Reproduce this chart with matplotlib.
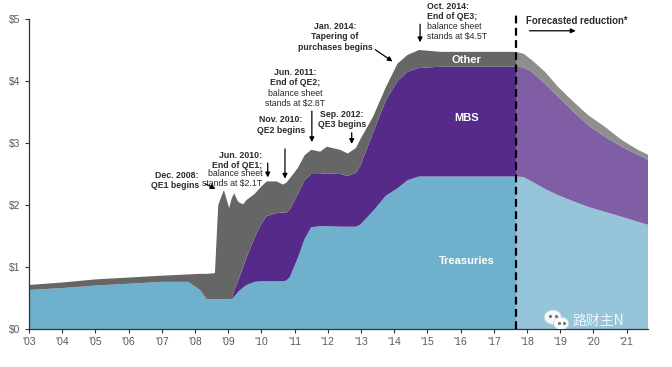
import matplotlib
matplotlib.use("Agg")
import matplotlib.pyplot as plt
from matplotlib.patches import Ellipse
import numpy as np

plt.rcParams['font.family'] = ['Liberation Sans', 'DejaVu Sans']

# historical balance sheet ($ trillion), layer values
hist_years = [2003.0, 2004.0, 2005.0, 2006.0, 2007.0, 2007.8, 2008.15, 2008.35, 2008.6, 2008.7,
              2008.87, 2009.03, 2009.1, 2009.18, 2009.3, 2009.45, 2009.55, 2009.8, 2010.0, 2010.16,
              2010.46, 2010.65, 2010.75, 2010.86, 2011.1, 2011.3, 2011.5, 2011.77, 2011.97, 2012.37,
              2012.6, 2012.85, 2012.97, 2013.36, 2013.75, 2014.1, 2014.4, 2014.75, 2015.4, 2016.5, 2017.67]
hist_treasuries = [0.63, 0.66, 0.70, 0.73, 0.76, 0.76, 0.63, 0.48, 0.48, 0.48,
                   0.48, 0.48, 0.48, 0.52, 0.60, 0.67, 0.71, 0.76, 0.77, 0.77,
                   0.77, 0.77, 0.78, 0.84, 1.15, 1.45, 1.64, 1.66, 1.66, 1.65,
                   1.65, 1.65, 1.68, 1.90, 2.15, 2.27, 2.40, 2.46, 2.46, 2.46, 2.46]
hist_mbs = [0.0, 0.0, 0.0, 0.0, 0.0, 0.0, 0.0, 0.0, 0.0, 0.0,
            0.0, 0.0, 0.0, 0.10, 0.18, 0.33, 0.44, 0.72, 0.93, 1.05,
            1.10, 1.11, 1.10, 1.09, 1.03, 0.95, 0.86, 0.84, 0.85, 0.85,
            0.82, 0.87, 0.94, 1.26, 1.54, 1.73, 1.75, 1.75, 1.77, 1.77, 1.77]
hist_other = [0.08, 0.09, 0.10, 0.10, 0.10, 0.12, 0.26, 0.41, 0.42, 1.52,
              1.76, 1.47, 1.62, 1.57, 1.27, 1.01, 0.93, 0.70, 0.60, 0.56,
              0.51, 0.45, 0.48, 0.50, 0.42, 0.40, 0.39, 0.36, 0.43, 0.39,
              0.36, 0.40, 0.43, 0.26, 0.21, 0.28, 0.27, 0.29, 0.24, 0.24, 0.24]

# forecasted reduction
fc_years = [2017.67, 2017.9, 2018.14, 2018.54, 2018.93, 2019.35, 2019.84, 2020.35, 2020.85, 2021.34, 2021.65]
fc_treasuries = [2.46, 2.45, 2.38, 2.26, 2.16, 2.07, 1.97, 1.89, 1.81, 1.73, 1.68]
fc_mbs = [1.77, 1.77, 1.77, 1.70, 1.59, 1.46, 1.32, 1.21, 1.13, 1.08, 1.05]
fc_other = [0.24, 0.22, 0.19, 0.19, 0.16, 0.16, 0.16, 0.16, 0.11, 0.08, 0.08]

tick_years = list(range(2003, 2022))
tick_labels = ["'%02d" % (y % 100) for y in tick_years]
y_ticks = [0, 1, 2, 3, 4, 5]
y_labels = ["$%d" % v for v in y_ticks]

hist_colors = ["#6fb0cd", "#552a88", "#666666"]
fc_colors = ["#96c4d8", "#7f5ea6", "#8e8e8e"]

fig = plt.figure(figsize=(6.72, 3.67), dpi=100)
ax = fig.add_axes([29 / 672, 38 / 367, 619 / 672, 310 / 367])

ax.stackplot(hist_years, hist_treasuries, hist_mbs, hist_other, colors=hist_colors, linewidth=0)
ax.stackplot(fc_years, fc_treasuries, fc_mbs, fc_other, colors=fc_colors, linewidth=0)

split = fc_years[0]
ax.plot([split, split], [0, 5.07], color="black", lw=1.6, ls=(0, (3.5, 2)), clip_on=False, zorder=5)

ax.set_xlim(2003, 2021.645)
ax.set_ylim(0, 5)
ax.set_xticks(tick_years)
ax.set_xticklabels(tick_labels)
ax.set_yticks(y_ticks)
ax.set_yticklabels(y_labels)
ax.tick_params(axis="both", labelsize=7.5, colors="#333333", labelcolor="#5a5a5a", length=3, width=0.8, pad=3)
for s in ["top", "right"]:
    ax.spines[s].set_visible(False)
for s in ["left", "bottom"]:
    ax.spines[s].set_color("#333333")
    ax.spines[s].set_linewidth(0.9)

tc = "#2b2b2b"
fs = 6.3
ls = 1.15


def arrow(x0, y0, x1, y1):
    ax.annotate("", xy=(x1, y1), xytext=(x0, y0),
                arrowprops=dict(arrowstyle="-|>", color="black", lw=0.9, mutation_scale=7),
                annotation_clip=False)


# Dec. 2008
ax.text(2008.12, 2.40, "Dec. 2008:\nQE1 begins", ha="right", va="center", fontsize=fs,
        color=tc, fontweight="bold", linespacing=ls)
arrow(2008.24, 2.36, 2008.69, 2.24)

# Jun. 2010
ax.text(2010.02, 2.72, "Jun. 2010:\nEnd of QE1;", ha="right", va="center", fontsize=fs,
        color=tc, fontweight="bold", linespacing=ls)
ax.text(2010.02, 2.42, "balance sheet\nstands at $2.1T", ha="right", va="center", fontsize=fs,
        color=tc, linespacing=ls)
arrow(2010.19, 2.72, 2010.19, 2.40)

# Nov. 2010
ax.text(2010.59, 3.29, "Nov. 2010:\nQE2 begins", ha="center", va="center", fontsize=fs,
        color=tc, fontweight="bold", linespacing=ls)
arrow(2010.71, 2.95, 2010.71, 2.38)

# Jun. 2011
ax.text(2011.01, 4.05, "Jun. 2011:\nEnd of QE2;", ha="center", va="center", fontsize=fs,
        color=tc, fontweight="bold", linespacing=ls)
ax.text(2011.01, 3.72, "balance sheet\nstands at $2.8T", ha="center", va="center", fontsize=fs,
        color=tc, linespacing=ls)
arrow(2011.52, 3.56, 2011.52, 2.97)

# Sep. 2012
ax.text(2012.43, 3.38, "Sep. 2012:\nQE3 begins", ha="center", va="center", fontsize=fs,
        color=tc, fontweight="bold", linespacing=ls)
arrow(2012.72, 3.21, 2012.72, 2.94)

# Jan. 2014
ax.text(2012.22, 4.71, "Jan. 2014:\nTapering of\npurchases begins", ha="center", va="center",
        fontsize=fs, color=tc, fontweight="bold", linespacing=ls)
arrow(2013.36, 4.53, 2014.02, 4.29)

# Oct. 2014
ax.text(2014.98, 5.12, "Oct. 2014:\nEnd of QE3;", ha="left", va="center", fontsize=fs,
        color=tc, fontweight="bold", linespacing=ls)
ax.text(2014.98, 4.80, "balance sheet\nstands at $4.5T", ha="left", va="center", fontsize=fs,
        color=tc, linespacing=ls)
arrow(2014.78, 4.96, 2014.78, 4.58)

# forecast
ax.text(2017.96, 4.97, "Forecasted reduction*", ha="left", va="center", fontsize=6.9,
        color=tc, fontweight="bold")
arrow(2017.99, 4.81, 2019.55, 4.81)

# layer labels
ax.text(2016.18, 4.34, "Other", ha="center", va="center", fontsize=8, color="white", fontweight="bold")
ax.text(2016.18, 3.40, "MBS", ha="center", va="center", fontsize=8, color="white", fontweight="bold")
ax.text(2016.18, 1.09, "Treasuries", ha="center", va="center", fontsize=8, color="white", fontweight="bold")

# watermark
ax.add_patch(Ellipse((2018.78, 0.19), 0.52, 0.23, facecolor="white", edgecolor="#b8d6e4", lw=0.6, alpha=0.9, zorder=6))
ax.add_patch(Ellipse((2019.03, 0.09), 0.46, 0.20, facecolor="white", edgecolor="#b8d6e4", lw=0.6, alpha=0.95, zorder=7))
ax.plot([2018.70, 2018.86, 2018.96, 2019.10], [0.21, 0.21, 0.10, 0.10], ls="none", marker="o",
        ms=1.3, color="#777777", zorder=8)
ax.text(2020.14, 0.13, "路财主N", ha="center", va="center", fontsize=10, color="white", alpha=0.85,
        family=["Noto Sans CJK SC", "DejaVu Sans"], zorder=8)

fig.savefig("out.png", dpi=100)
